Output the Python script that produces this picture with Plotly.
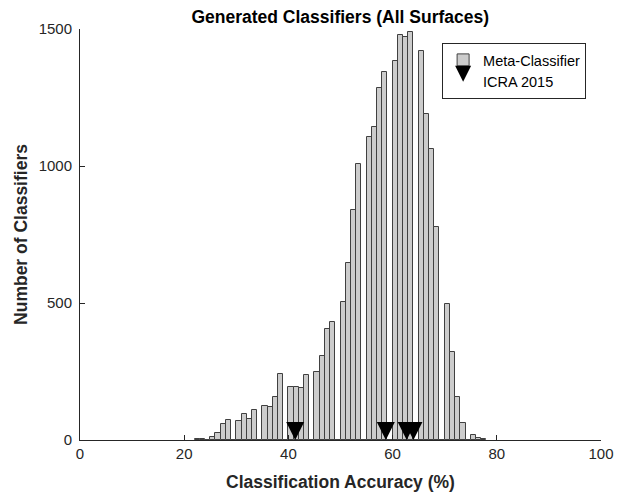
import plotly.graph_objects as go

# Histogram bins (left edge, width 1 %) and counts
bin_left = list(range(22, 78))
counts = [3, 3, 0, 10, 25, 60, 72, 0, 70, 95, 76, 109, 0, 123, 120, 158, 240, 0,
          195, 195, 191, 237, 0, 247, 308, 405, 432, 0, 502, 645, 838, 1006, 0,
          1107, 1143, 1284, 1344, 0, 1384, 1478, 1470, 1489, 0, 1421, 1190, 1061,
          778, 0, 496, 320, 157, 63, 0, 19, 7, 2]
bin_width = 1.0

# ICRA 2015 classifier accuracies
icra_acc = [41.3, 58.7, 62.7, 64.0]
icra_y = [0, 0, 0, 0]

x_ticks = [0, 20, 40, 60, 80, 100]
y_ticks = [0, 500, 1000, 1500]

centers = [b + bin_width / 2 for b in bin_left]

fig = go.Figure()
fig.add_trace(go.Bar(
    x=centers, y=counts, width=[bin_width] * len(centers),
    name="Meta-Classifier",
    marker=dict(color="#cccccc", line=dict(color="#404040", width=1)),
))
fig.add_trace(go.Scatter(
    x=icra_acc, y=icra_y, mode="markers", name="ICRA 2015",
    marker=dict(symbol="arrow-down", size=18, color="black",
                line=dict(width=0)),
    cliponaxis=False,
))

font_family = "Liberation Sans, Arial, sans-serif"
# page body has an 8px margin, so the figure is 8px smaller than the window
fig.update_layout(
    width=621, height=485,
    margin=dict(l=72, r=28, t=21, b=53, autoexpand=False),
    paper_bgcolor="white", plot_bgcolor="white",
    font=dict(family=font_family, size=15, color="#262626"),
    title=dict(text="<b>Generated Classifiers (All Surfaces)</b>",
               x=0.535, xanchor="center", y=0.981, yanchor="middle",
               font=dict(size=17.5, color="black")),
    showlegend=True,
    legend=dict(x=0.695, y=0.966, xanchor="left", yanchor="top",
                bordercolor="#262626", borderwidth=1, bgcolor="white",
                font=dict(size=14.5, color="black"), tracegroupgap=0),
    bargap=0,
)
fig.update_xaxes(
    range=[0, 100], tickvals=x_ticks, ticktext=[str(t) for t in x_ticks],
    ticks="inside", ticklen=5, tickcolor="#262626", automargin=False,
    showline=True, linecolor="#262626", linewidth=1, mirror=False,
    showgrid=False, zeroline=False,
    title=dict(text="<b>Classification Accuracy (%)</b>",
               font=dict(size=17.5, color="#262626"), standoff=14),
)
fig.update_yaxes(
    range=[0, 1500], tickvals=y_ticks, ticktext=[str(t) for t in y_ticks],
    ticks="inside", ticklen=5, tickcolor="#262626", ticklabelstandoff=4,
    automargin=False,
    showline=True, linecolor="#262626", linewidth=1, mirror=False,
    showgrid=False, zeroline=False,
    title=dict(text="<b>Number of Classifiers</b>",
               font=dict(size=17.5, color="#262626"), standoff=6),
)

fig.write_html("out.html")
